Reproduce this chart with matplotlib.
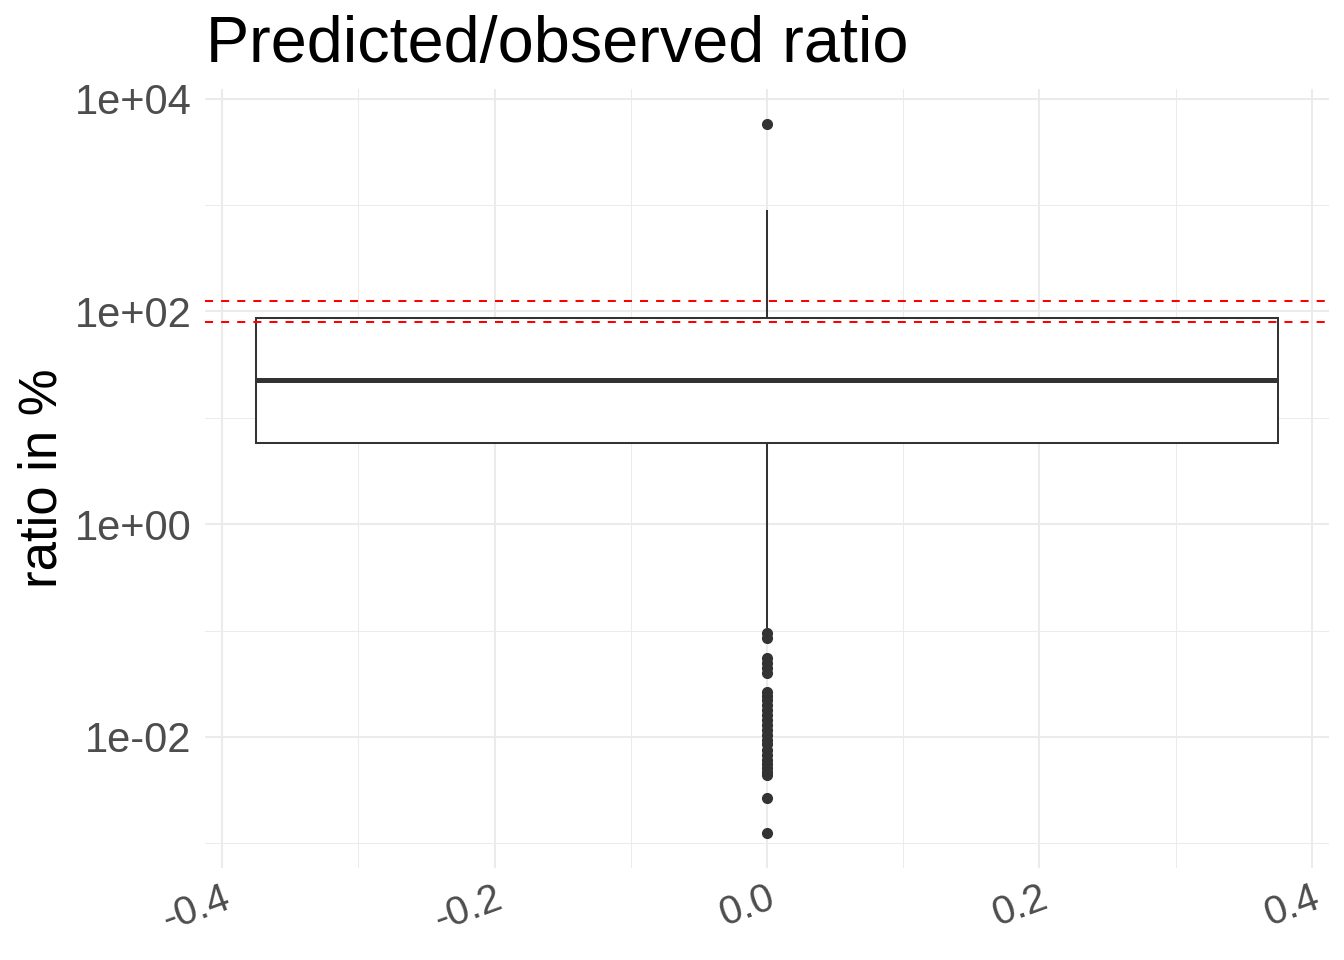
import numpy as np
import matplotlib
matplotlib.use("Agg")
import matplotlib.pyplot as plt
from matplotlib.ticker import FixedLocator, FixedFormatter

# ---- data ----
q1 = 5.82
median = 22.6
q3 = 86.7
whisker_low = 0.109
whisker_high = 885.0
outliers_high = [5730.0]
outliers_low = [0.0953, 0.0855, 0.0555, 0.0498, 0.0447, 0.0401,
                0.0266, 0.0245, 0.0223, 0.0200, 0.0180, 0.0162, 0.0145,
                0.0130, 0.0117, 0.0105, 0.0094, 0.0085, 0.00757, 0.0068,
                0.0061, 0.0056, 0.00513, 0.0047, 0.0044, 0.00268, 0.00126]
ref_lines = [80, 125]
y_ticks = [1e-2, 1e0, 1e2, 1e4]
y_ticklabels = ["1e-02", "1e+00", "1e+02", "1e+04"]
y_minor = [1e-3, 1e-1, 1e1, 1e3]
x_ticks = [-0.4, -0.2, 0.0, 0.2, 0.4]
x_ticklabels = ["-0.4", "-0.2", "0.0", "0.2", "0.4"]
x_minor = [-0.3, -0.1, 0.1, 0.3]
title = "Predicted/observed ratio"
ylabel = "ratio in %"

plt.rcParams['font.family'] = ['Liberation Sans', 'DejaVu Sans']

W, H = 1344, 960
fig = plt.figure(figsize=(W / 100, H / 100), dpi=100)
ax = fig.add_axes([205 / W, 1 - 868 / H, (1329 - 205) / W, (868 - 89) / H])

grid_c = "#EBEBEB"
for x in x_ticks:
    ax.axvline(x, color=grid_c, lw=1.45, zorder=0)
for x in x_minor:
    ax.axvline(x, color=grid_c, lw=0.75, zorder=0)
for y in y_ticks:
    ax.axhline(y, color=grid_c, lw=1.45, zorder=0)
for y in y_minor:
    ax.axhline(y, color=grid_c, lw=0.75, zorder=0)

stats = [dict(med=median, q1=q1, q3=q3, whislo=whisker_low, whishi=whisker_high,
              fliers=np.array(outliers_high + outliers_low), label="")]
dark = "#333333"
ax.bxp(stats, positions=[0.0], widths=0.75, showcaps=False, patch_artist=True,
       boxprops=dict(facecolor="white", edgecolor=dark, linewidth=1.45),
       medianprops=dict(color=dark, linewidth=3.6, solid_capstyle="butt"),
       whiskerprops=dict(color=dark, linewidth=1.45),
       flierprops=dict(marker="o", markerfacecolor=dark, markeredgecolor=dark,
                       markersize=7, linestyle="none"),
       zorder=2)

for r in ref_lines:
    ax.axhline(r, color="#FF0000", lw=1.45, linestyle=(0, (4, 4)), zorder=3)

ax.set_yscale("log")
allv = np.array(outliers_high + outliers_low + [whisker_low, whisker_high])
lo, hi = np.log10(allv.min()), np.log10(allv.max())
pad = 0.05 * (hi - lo)
ax.set_ylim(10 ** (lo - pad), 10 ** (hi + pad))
ax.set_xlim(-0.4125, 0.4125)

ax.yaxis.set_major_locator(FixedLocator(y_ticks))
ax.yaxis.set_major_formatter(FixedFormatter(y_ticklabels))
ax.yaxis.set_minor_locator(FixedLocator([]))
ax.set_xticks(x_ticks)
ax.set_xticklabels(x_ticklabels)

for s in ax.spines.values():
    s.set_visible(False)
ax.tick_params(axis="both", length=0, colors="#4D4D4D")
ax.tick_params(axis="y", labelsize=30, pad=9.5)
ax.tick_params(axis="x", labelsize=29, pad=8)
for lab in ax.get_xticklabels():
    lab.set_rotation(20)
    lab.set_rotation_mode("anchor")
    lab.set_ha("right")
    lab.set_va("top")

ax.set_ylabel(ylabel, fontsize=38, color="black", labelpad=5)
fig.text(206 / W, 1 - 62 / H, title, fontsize=46.6, color="black",
         ha="left", va="baseline")

fig.savefig("out.png", dpi=100, facecolor="white")
